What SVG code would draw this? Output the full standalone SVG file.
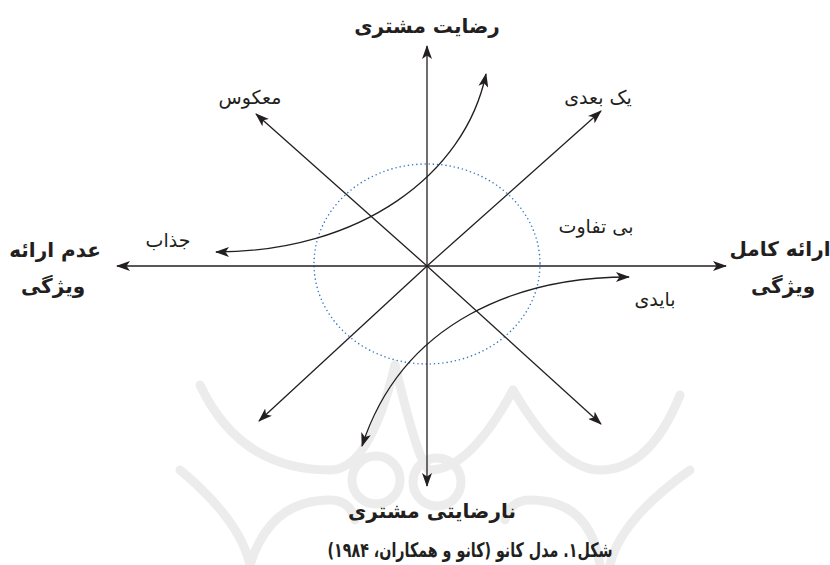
<svg xmlns="http://www.w3.org/2000/svg" width="830" height="565" viewBox="0 0 830 565">
<style>
.t{font-family:"DejaVu Sans","Noto Sans",sans-serif;fill:#231f20;text-anchor:middle;direction:rtl}
.b{font-weight:bold;font-size:20px}
.r{font-size:19px}
.ln{stroke:#231f20;stroke-width:1.3;fill:none;marker-end:url(#ah)}
.dbl{marker-start:url(#ah)}
.wm{stroke:#ececec;stroke-width:9;fill:none;stroke-linecap:round}
</style>
<defs>
<marker id="ah" markerUnits="userSpaceOnUse" viewBox="0 0 14 10" refX="13" refY="5" markerWidth="14" markerHeight="10" orient="auto-start-reverse">
<path d="M0,0 L14,5 L0,10 L3.5,5 z" fill="#231f20"/>
</marker>
</defs>
<rect width="830" height="565" fill="#fff"/>
<g id="watermark">
<path class="wm" d="M200,385 Q240,470 330,470 Q370,470 395,365"/>
<path class="wm" d="M395,365 Q420,470 430,470 Q470,470 513,390"/>
<path class="wm" d="M513,390 Q560,470 600,470 Q650,470 680,395"/>
<circle class="wm" cx="376" cy="480" r="24"/>
<circle class="wm" cx="437" cy="482" r="24"/>
<path class="wm" d="M250,565 Q270,500 330,500 Q350,500 355,520"/>
<path class="wm" d="M600,565 Q590,500 530,500 Q510,500 505,520"/>
<path class="wm" d="M180,470 Q240,520 250,565"/>
<path class="wm" d="M690,470 Q620,520 610,565"/>
</g>
<g id="range">
<ellipse cx="427" cy="264" rx="113" ry="100" fill="none" stroke="#3b78c4" stroke-width="1.6" stroke-dasharray="0 4.2" stroke-linecap="round"/>
</g>
<g id="connectors">
<line class="ln" x1="427" y1="266" x2="427" y2="46"/>
<line class="ln" x1="427" y1="266" x2="427" y2="486"/>
<line class="ln" x1="427" y1="266" x2="117" y2="266"/>
<line class="ln" x1="427" y1="266" x2="726" y2="266"/>
<line class="ln" x1="427" y1="266" x2="256" y2="114"/>
<line class="ln" x1="427" y1="266" x2="601" y2="111"/>
<line class="ln" x1="427" y1="266" x2="259" y2="421"/>
<line class="ln" x1="427" y1="266" x2="601" y2="424"/>
<path class="ln dbl" d="M216,252 C360,252 465,175 486,74"/>
<path class="ln dbl" d="M629,277 C520,277 403,320 362,446"/>
</g>
<g id="axis-top"><text class="t b" x="427" y="33" font-size="22">رضایت مشتری</text></g>
<g id="axis-bottom"><text class="t b" x="432" y="518">نارضایتی مشتری</text></g>
<g id="axis-left"><text class="t b" x="55" y="257">عدم ارائه</text><text class="t b" x="53" y="293">ویژگی</text></g>
<g id="axis-right"><text class="t b" x="780" y="256">ارائه کامل</text><text class="t b" x="783" y="293">ویژگی</text></g>
<g id="reverse"><text class="t r" x="250" y="104">معکوس</text></g>
<g id="one-dimensional"><text class="t r" x="598" y="104">یک بعدی</text></g>
<g id="indifferent"><text class="t r" x="596" y="233">بی تفاوت</text></g>
<g id="attractive"><text class="t r" x="168" y="247">جذاب</text></g>
<g id="must-be"><text class="t r" x="655" y="306">بایدی</text></g>
<g id="caption"><text class="t b" x="470" y="557" textLength="285" lengthAdjust="spacingAndGlyphs">شکل۱. مدل کانو (کانو و همکاران، ۱۹۸۴)</text></g>
</svg>
